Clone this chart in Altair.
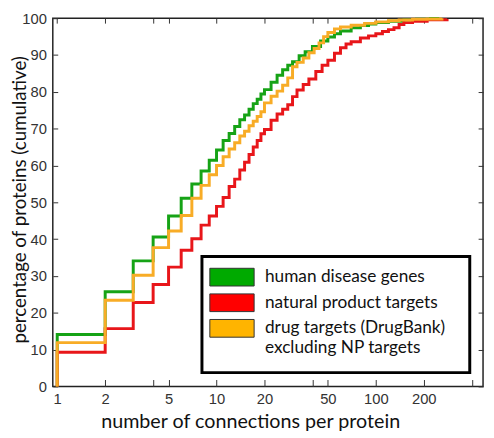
import altair as alt
import pandas as pd

series_names = ["human disease genes", "natural product targets",
                "drug targets (DrugBank) excluding NP targets"]
legend_labels = ["human disease genes", "natural product targets",
                 "drug targets (DrugBank)\n\u00a0excluding NP targets"]
line_colors = ["#16a316", "#e8161a", "#f8ac26"]
swatch_colors = ["#00aa00", "#ff0000", "#ffb400"]

green_conn = [1, 2, 3, 4, 5, 6, 7, 8, 9, 10, 11, 12, 13, 14, 15, 16, 17, 18, 19, 20,
              22, 24, 26, 28, 30, 33, 36, 40, 45, 50, 55, 60, 70, 80, 90, 100, 120,
              150, 180, 220, 250]
green_pct = [14.1, 25.7, 34.1, 40.6, 46.3, 51.1, 55.0, 58.5, 61.4, 64.2, 66.8, 68.7,
             70.6, 72.4, 73.7, 75.3, 76.8, 78.0, 79.4, 80.6, 82.6, 84.5, 86.0, 87.2,
             88.2, 89.8, 90.9, 92.3, 93.8, 94.9, 95.8, 96.5, 97.4, 98.0, 98.4, 98.8,
             99.2, 99.5, 99.7, 99.9, 100.0]

red_conn = [1, 2, 3, 4, 5, 6, 7, 8, 9, 10, 11, 12, 13, 14, 15, 16, 17, 18, 19, 20,
            22, 24, 26, 28, 30, 32, 35, 38, 42, 46, 50, 55, 60, 65, 70, 80, 90, 100,
            110, 120, 130, 140, 150, 170, 210, 280]
red_pct = [9.3, 15.7, 22.8, 27.7, 32.4, 37.0, 40.1, 43.8, 46.3, 48.9, 51.3, 54.3,
           56.3, 58.8, 60.9, 63.0, 65.0, 66.8, 68.6, 69.8, 72.3, 74.0, 75.3, 76.5,
           78.7, 80.5, 82.0, 83.5, 85.5, 87.2, 88.6, 90.5, 92.0, 93.0, 93.6, 94.6,
           95.2, 95.8, 96.4, 96.9, 97.4, 98.3, 98.8, 99.2, 99.6, 99.8]

orange_conn = [1, 2, 3, 4, 5, 6, 7, 8, 9, 10, 11, 12, 13, 14, 15, 16, 17, 18, 19, 20,
               22, 24, 26, 28, 30, 32, 35, 38, 41, 44, 47, 50, 55, 60, 70, 85, 100,
               120, 140, 170, 210, 260]
orange_pct = [11.9, 23.4, 30.2, 37.7, 42.2, 46.4, 51.1, 54.6, 57.5, 60.0, 62.4, 64.5,
              66.2, 68.0, 69.3, 70.8, 72.0, 73.3, 74.6, 77.0, 78.8, 80.2, 81.8, 83.8,
              86.8, 88.0, 89.2, 90.6, 91.8, 93.3, 95.0, 96.1, 97.1, 97.6, 98.1, 98.6,
              99.0, 99.3, 99.5, 99.7, 99.8, 100.0]

x_ticks = [1, 2, 4, 5, 10, 20, 40, 50, 100, 200, 400]
y_ticks = [0, 10, 20, 30, 40, 50, 60, 70, 80, 90, 100]

rows = []
for name, ks, vs in zip(series_names,
                        [green_conn, red_conn, orange_conn],
                        [green_pct, red_pct, orange_pct]):
    rows.append({"series": name, "order": 0, "conn": 1, "pct": 0.0})
    for i, (k, v) in enumerate(zip(ks, vs)):
        rows.append({"series": name, "order": i + 1, "conn": k, "pct": v})
df = pd.DataFrame(rows)

legend_df = pd.DataFrame({"series": series_names, "label": legend_labels,
                          "row": list(range(len(series_names)))})

x_scale = alt.Scale(type="log", domain=[0.938, 471], nice=False, zero=False)
y_scale = alt.Scale(domain=[0, 100], nice=False, zero=False)

x_label_expr = "(datum.value == 4 || datum.value == 40 || datum.value == 400) ? '' : format(datum.value, 'd')"

lines = alt.Chart(df).mark_line(
    interpolate="step-after", strokeWidth=3, strokeCap="butt", strokeJoin="miter"
).encode(
    x=alt.X("conn:Q", scale=x_scale,
            axis=alt.Axis(orient="bottom", values=x_ticks, labelExpr=x_label_expr,
                          offset=-7, tickSize=7, domain=False, labelPadding=5,
                          labelFlush=False,
                          title="number of connections per protein",
                          titleX=200.5, titleY=49, titleBaseline="alphabetic")),
    y=alt.Y("pct:Q", scale=y_scale,
            axis=alt.Axis(orient="left", values=y_ticks, offset=-5, tickSize=5,
                          domain=False, labelPadding=6.5, labelFlush=False,
                          title="percentage of proteins (cumulative)",
                          titleX=-29, titleY=184, titleBaseline="bottom",
                          titleFontSize=19)),
    stroke=alt.Stroke("series:N",
                      scale=alt.Scale(domain=series_names, range=line_colors),
                      legend=None),
    order=alt.Order("order:Q"),
)

frame_axes = alt.Chart(df).mark_point(opacity=0, size=0).encode(
    x=alt.X("conn:Q", scale=x_scale,
            axis=alt.Axis(orient="top", values=x_ticks, labels=False, title=None,
                          offset=-5, tickSize=5, domain=False)),
    y=alt.Y("pct:Q", scale=y_scale,
            axis=alt.Axis(orient="right", values=y_ticks, labels=False, title=None,
                          offset=-5, tickSize=5, domain=False)),
)

# legend (box, swatches, labels)
legend_box = alt.Chart(legend_df).transform_filter("datum.row == 0").mark_rect(
    fill="#ffffff", stroke="#000000", strokeWidth=3
).encode(
    x=alt.value(151.5), x2=alt.value(423.5),
    y=alt.value(242), y2=alt.value(360),
)

legend_swatches = alt.Chart(legend_df).transform_calculate(
    sy="254 + datum.row * 26", sy2="272 + datum.row * 26"
).mark_rect(stroke="#333333", strokeWidth=1).encode(
    x=alt.value(159.5), x2=alt.value(204.5),
    y=alt.Y("sy:Q", scale=None, axis=None), y2=alt.Y2("sy2:Q"),
    fill=alt.Fill("series:N",
                  scale=alt.Scale(domain=series_names, range=swatch_colors),
                  legend=None),
)

legend_text = alt.Chart(legend_df).transform_calculate(
    ty="263 + datum.row * 26"
).mark_text(
    align="left", baseline="middle", font="Lato", fontSize=17.5, color="#111111",
    lineBreak="\n", lineHeight=20
).encode(
    x=alt.value(215.5),
    y=alt.Y("ty:Q", scale=None, axis=None),
    text="label:N",
)

chart = alt.layer(lines, frame_axes, legend_box, legend_swatches, legend_text).resolve_axis(
    x="independent", y="independent"
).properties(
    width=437, height=374,
    autosize=alt.AutoSizeParams(type="none"),
    padding={"left": 45.5, "top": 7, "right": 3, "bottom": 48},
).configure_view(
    stroke="#222222", strokeWidth=1.5
).configure_axis(
    grid=False, tickColor="#333333", tickWidth=1,
    labelFont="Liberation Sans", labelFontSize=15, labelColor="#333333",
    titleFont="Lato", titleFontSize=20, titleFontWeight="normal", titleColor="#111111",
)

chart.save("out.html", embed_options={"renderer": "svg", "actions": False})
